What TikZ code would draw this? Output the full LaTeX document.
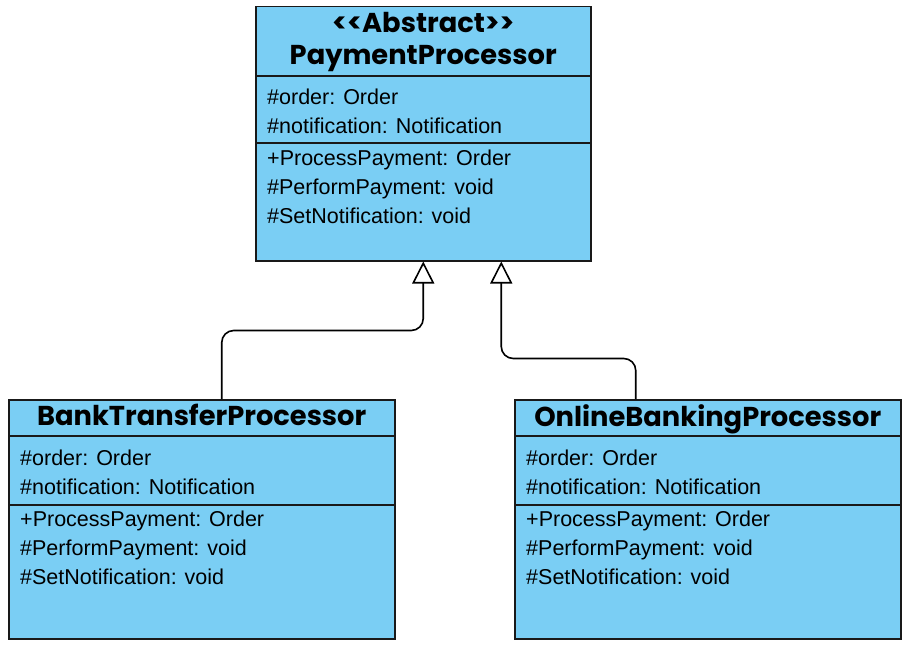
\documentclass[tikz,border=0pt]{standalone}
\usepackage{fontspec}
\setmainfont{Liberation Sans}
\newfontfamily\poppins{Poppins}
\usetikzlibrary{arrows.meta}
\definecolor{classblue}{HTML}{7ACEF4}
\newcommand\attrlines{\#order: Order\\\#notification: Notification}
\newcommand\methodlines{+ProcessPayment: Order\\\#PerformPayment: void\\\#SetNotification: void}
\tikzset{umlclass/.style={draw=black!90,fill=classblue,line width=1.5pt,
                          anchor=north west,inner sep=0pt},
         classname/.style={font=\poppins\bfseries\fontsize{27.3}{32}\selectfont,
                           align=center,anchor=north,inner sep=0pt},
         members/.style={font=\fontsize{21.5}{29}\selectfont,
                         align=left,anchor=north west,inner sep=0pt},
         divider/.style={draw=black!90,line width=1.5pt},
         extends/.style={draw=black,line width=1.6pt,rounded corners=12pt,
                         -{Triangle[open,length=22pt,width=22pt,fill=white]}}}

\begin{document}
\begin{tikzpicture}[x=1pt,y=-1pt]
    \useasboundingbox (0,0) rectangle (907,647);
    % abstract base class
    \node[umlclass,minimum width=335pt,minimum height=254pt] (pp) at (255,6) {};
    \node[classname] (pp-name) at ([yshift=-6pt]pp.north)
        {<{}<Abstract>{}>\\PaymentProcessor};
    \draw[divider] ([yshift=-70pt]pp.north west) -- ([yshift=-70pt]pp.north east);
    \draw[divider] ([yshift=-137pt]pp.north west) -- ([yshift=-137pt]pp.north east);
    \node[members] (pp-attr) at ([xshift=12pt,yshift=-82.5pt]pp.north west) {\attrlines};
    \node[members] (pp-ops) at ([xshift=12pt,yshift=-144pt]pp.north west) {\methodlines};
    % subclasses
    \foreach \c/\x/\name in {bt/8/BankTransferProcessor,ob/514/OnlineBankingProcessor}
    {
        \node[umlclass,minimum width=386pt,minimum height=239pt] (\c) at (\x,399) {};
        \node[classname] (\c-name) at ([yshift=-5pt]\c.north) {\name};
        \draw[divider] ([yshift=-37pt]\c.north west) -- ([yshift=-37pt]\c.north east);
        \draw[divider] ([yshift=-106pt]\c.north west) -- ([yshift=-106pt]\c.north east);
        \node[members] (\c-attr) at ([xshift=12pt,yshift=-50.5pt]\c.north west) {\attrlines};
        \node[members] (\c-ops) at ([xshift=12pt,yshift=-111.5pt]\c.north west) {\methodlines};
    }
    % generalisation
    \draw[extends] ([xshift=20pt]bt.north) |- ([yshift=-69pt]pp.south) -- (pp.south);
    \draw[extends] ([xshift=-72pt]ob.north) |- ([xshift=78pt,yshift=-97pt]pp.south)
        -- ([xshift=78pt]pp.south);
\end{tikzpicture}
\end{document}
